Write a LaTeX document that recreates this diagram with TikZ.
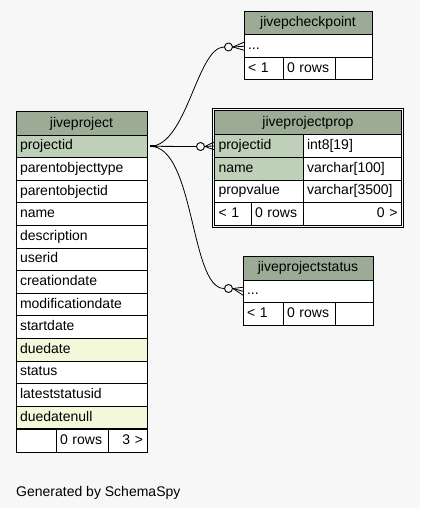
\documentclass[tikz,border=0pt]{standalone}
\usepackage{fontspec}
\setmainfont{Liberation Sans}
\usetikzlibrary{positioning}
\usetikzlibrary{fit}
\definecolor{bgcol}{HTML}{F7F7F7}
\definecolor{headcol}{HTML}{9BAB96}
\definecolor{keycol}{HTML}{BED1B8}
\definecolor{idxcol}{HTML}{F4F7DA}
\tikzset{
  tcell/.style={draw, line width=1pt, anchor=north west,
    inner xsep=4pt, inner ysep=0pt, outer sep=0pt,
    font=\fontsize{14}{16}\selectfont, text height=10pt, text depth=3pt},
  thead/.style={tcell, fill=headcol, align=center},
  tcol/.style={tcell, fill=white, align=left},
  tnum/.style={tcell, fill=white, align=right},
  relcirc/.style={circle, draw, line width=0.9pt, fill=bgcol,
    minimum size=8pt, inner sep=0pt},
  rel/.style={line width=0.8pt}
}

\begin{document}
\begin{tikzpicture}[x=1pt, y=-1pt]
\fill[bgcol] (0,0) rectangle (420,508);
\useasboundingbox (0,0) rectangle (420,508);

% jiveproject
\node[thead, minimum width=131pt, minimum height=23pt] (pj) at (16,112) {jiveproject};
\foreach \n/\f [count=\i from 0] in {projectid/keycol, parentobjecttype/white,
    parentobjectid/white, name/white, description/white, userid/white,
    creationdate/white, modificationdate/white, startdate/white,
    duedate/idxcol, status/white, lateststatusid/white, duedatenull/idxcol}
  \node[tcol, fill=\f, text width=123pt, minimum height=22.6pt] (pj-\n)
    at (16,{135+22.6*\i}) {\n};
\node[tcol, text width=32pt, minimum height=22.6pt] (pj-foot1) at (16,429.4) {};
\node[tcol, text width=44pt, minimum height=22.6pt] (pj-foot2) at (56,429.4) {0 rows};
\node[tnum, text width=31pt, minimum height=22.6pt] (pj-foot3) at (108,429.4) {3 >};

% jivepcheckpoint
\node[thead, minimum width=128pt, minimum height=23pt] (cp) at (244,12) {jivepcheckpoint};
\node[tcol, text width=120pt, minimum height=22.5pt] (cp-dots) at (244,35) {...};
\node[tcol, text width=31pt, minimum height=22.5pt] (cp-foot1) at (244,57.5) {< 1};
\node[tcol, text width=44pt, minimum height=22.5pt] (cp-foot2) at (283,57.5) {0 rows};
\node[tcol, text width=29pt, minimum height=22.5pt] (cp-foot3) at (335,57.5) {};

% jiveprojectprop
\node[thead, minimum width=187pt, minimum height=24pt] (pp) at (214.5,110.5) {jiveprojectprop};
\node[tcol, fill=keycol, text width=80.5pt, minimum height=22.75pt] (pp-projectid) at (214.5,134.5) {projectid};
\node[tcol, text width=90.5pt, minimum height=22.75pt] (pp-projectid-t) at (303,134.5) {int8[19]};
\node[tcol, fill=keycol, text width=80.5pt, minimum height=22.75pt] (pp-name) at (214.5,157.25) {name};
\node[tcol, text width=90.5pt, minimum height=22.75pt] (pp-name-t) at (303,157.25) {varchar[100]};
\node[tcol, text width=80.5pt, minimum height=22.75pt] (pp-propvalue) at (214.5,180) {propvalue};
\node[tcol, text width=90.5pt, minimum height=22.75pt] (pp-propvalue-t) at (303,180) {varchar[3500]};
\node[tcol, text width=28.5pt, minimum height=22.75pt] (pp-foot1) at (214.5,202.75) {< 1};
\node[tcol, text width=44pt, minimum height=22.75pt] (pp-foot2) at (251,202.75) {0 rows};
\node[tnum, text width=90.5pt, minimum height=22.75pt] (pp-foot3) at (303,202.75) {0 >};
\node[draw, line width=1pt, inner sep=2pt, fit=(pp)(pp-foot3)] (pp-frame) {};

% jiveprojectstatus
\node[thead, minimum width=130pt, minimum height=24pt] (ps) at (243,256) {jiveprojectstatus};
\node[tcol, text width=122pt, minimum height=22.5pt] (ps-dots) at (243,280) {...};
\node[tcol, text width=32pt, minimum height=22.5pt] (ps-foot1) at (243,302.5) {< 1};
\node[tcol, text width=44pt, minimum height=22.5pt] (ps-foot2) at (283,302.5) {0 rows};
\node[tcol, text width=30pt, minimum height=22.5pt] (ps-foot3) at (335,302.5) {};

% relationships
\coordinate (src) at ([xshift=3pt]pj-projectid.east);
\node[relcirc] (c-cp) at (228.5,47) {};
\node[relcirc] (c-pp) at (200.5,146.5) {};
\node[relcirc] (c-ps) at (228.5,288.5) {};

\draw[line width=2pt] (src) -- ++(7,0);
\draw[rel] (src) .. controls (187,146) and (197,47) .. (c-cp.west);
\draw[rel] (src) -- (c-pp.west);
\draw[rel] (src) .. controls (195,146) and (190,288.5) .. (c-ps.west);

\foreach \c/\t in {c-cp/cp-dots, c-pp/pp-projectid, c-ps/ps-dots} {
  \draw[rel] (\c.east) -- ([yshift=4pt]\t.west);
  \draw[rel] (\c.east) -- (\t.west);
  \draw[rel] (\c.east) -- ([yshift=-4pt]\t.west);
}

\node[anchor=base west, inner sep=0pt, font=\fontsize{14}{16}\selectfont] (gen) at (16,496) {Generated by SchemaSpy};
\end{tikzpicture}
\end{document}
